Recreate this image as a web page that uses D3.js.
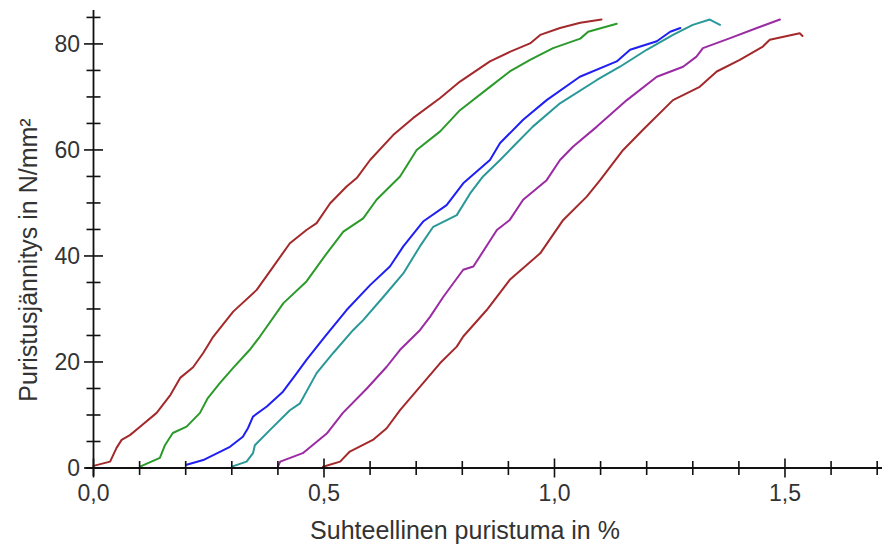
<!DOCTYPE html>
<html><head><meta charset="utf-8">
<script src="https://cdn.jsdelivr.net/npm/d3@7"></script>
<style>
html,body{margin:0;padding:0;background:#fff;}
svg{display:block;}
text{font-family:"Liberation Sans",Arial,sans-serif;fill:#333;}
</style></head>
<body><svg id="c" width="882" height="546"></svg>
<script>
// ---- data (strain in %, stress in N/mm²) ----
const xMajorTicks = [0, 0.5, 1.0, 1.5];
const xTickLabels = ["0,0", "0,5", "1,0", "1,5"];
const xMinorTicks = [0.1,0.2,0.3,0.4,0.6,0.7,0.8,0.9,1.1,1.2,1.3,1.4,1.6,1.7];
const yMajorTicks = [0, 20, 40, 60, 80];
const yTickLabels = ["0", "20", "40", "60", "80"];
const yMinorTicks = [5,10,15,25,30,35,45,50,55,65,70,75,85];
const xTitle = "Suhteellinen puristuma in %";
const yTitle = "Puristusjännitys in N/mm²";

const s1x = [0,0.036,0.050,0.061,0.079,0.101,0.137,0.167,0.188,0.216,0.238,0.260,0.303,0.354,0.390,0.426,0.462,0.484,0.513,0.549,0.571,0.600,0.650,0.693,0.752,0.795,0.860,0.903,0.947,0.969,1.012,1.056,1.102];
const s1y = [0.4,1.2,3.8,5.3,6.2,7.8,10.4,13.8,17,19,21.7,24.8,29.5,33.6,38,42.4,44.9,46.2,49.9,53.1,54.7,58.1,62.8,66,69.8,72.9,76.7,78.5,80.1,81.7,83,84,84.6];
const s2x = [0.101,0.144,0.155,0.172,0.202,0.231,0.248,0.274,0.303,0.339,0.361,0.412,0.462,0.506,0.542,0.585,0.614,0.665,0.701,0.752,0.795,0.860,0.903,0.947,0.997,1.056,1.073,1.135];
const s2y = [0.25,1.9,4.3,6.6,7.8,10.4,13.2,16,18.9,22.3,24.8,31.1,35.2,40.5,44.6,47.1,50.6,55,60,63.5,67.5,71.9,74.8,77,79.2,81,82.3,83.8];
const s3x = [0.202,0.238,0.296,0.324,0.335,0.346,0.376,0.411,0.441,0.462,0.502,0.549,0.600,0.643,0.672,0.715,0.766,0.802,0.860,0.882,0.932,0.983,1.055,1.135,1.164,1.222,1.251,1.273];
const s3y = [0.6,1.5,4,5.9,7.5,9.7,11.6,14.4,17.9,20.4,24.8,29.8,34.5,38,41.8,46.5,49.6,53.7,58.1,61.3,65.7,69.4,73.8,76.7,78.9,80.5,82.3,83];
const s4x = [0.300,0.332,0.346,0.350,0.383,0.426,0.448,0.484,0.520,0.563,0.585,0.629,0.672,0.708,0.737,0.788,0.817,0.845,0.882,0.910,0.953,1.012,1.092,1.142,1.200,1.257,1.300,1.337,1.359];
const s4y = [0.25,1.2,2.8,4.3,7.2,10.9,12.2,17.9,21.7,26,27.9,32.3,36.7,41.8,45.5,47.7,51.8,55,58.1,60.6,64.4,68.8,73.2,75.7,78.9,81.7,83.6,84.6,83.6];
const s5x = [0.400,0.405,0.454,0.506,0.541,0.593,0.636,0.665,0.708,0.730,0.759,0.802,0.824,0.875,0.903,0.932,0.983,1.012,1.040,1.092,1.157,1.222,1.279,1.308,1.322,1.381,1.439,1.489];
const s5y = [0.25,1.2,2.8,6.5,10.4,15,19.1,22.3,26,28.5,32.3,37.4,38,44.9,46.8,50.6,54.3,58.1,60.6,64.4,69.4,73.8,75.7,77.6,79.2,81.1,83,84.6];
const s6x = [0.498,0.535,0.556,0.606,0.636,0.665,0.715,0.752,0.788,0.802,0.853,0.903,0.969,1.019,1.070,1.099,1.149,1.192,1.257,1.315,1.352,1.402,1.452,1.467,1.532,1.538];
const s6y = [0.25,1.2,3.1,5.3,7.5,10.9,16,19.8,22.9,24.8,29.8,35.5,40.5,46.8,51.2,54.3,60,63.8,69.4,71.9,74.8,77,79.5,80.8,82,81.5];

const seriesX = [s1x, s2x, s3x, s4x, s5x, s6x];
const seriesY = [s1y, s2y, s3y, s4y, s5y, s6y];
const seriesColors = ["#a3292b", "#2b9a2b", "#1f1ff2", "#2a9898", "#9b2ba3", "#a3292b"];

// ---- layout ----
const svg = d3.select("#c");
const x = d3.scaleLinear().domain([0, 1.72]).range([93.5, 886.4]);
const y = d3.scaleLinear().domain([0, 86.4]).range([468, 10]);

// curves
const line = d3.line().x(d => x(d[0])).y(d => y(d[1])).curve(d3.curveLinear);
seriesX.forEach((xs, i) => {
  const pts = xs.map((v, j) => [v, seriesY[i][j]]);
  svg.append("path").datum(pts).attr("d", line)
    .attr("fill", "none").attr("stroke", seriesColors[i])
    .attr("stroke-width", 2).attr("stroke-linejoin", "round").attr("stroke-linecap", "round");
});

// axes lines
const axisColor = "#111";
svg.append("line").attr("x1", x(0) - 8).attr("x2", 882).attr("y1", y(0)).attr("y2", y(0))
  .attr("stroke", axisColor).attr("stroke-width", 1.8);
svg.append("line").attr("x1", x(0)).attr("x2", x(0)).attr("y1", y(0) + 8).attr("y2", y(86.4))
  .attr("stroke", axisColor).attr("stroke-width", 1.8);

// ticks crossing the axes
function xTicks(vals, len) {
  svg.append("g").selectAll("line").data(vals).join("line")
    .attr("x1", d => x(d)).attr("x2", d => x(d))
    .attr("y1", y(0) - len).attr("y2", y(0) + len)
    .attr("stroke", axisColor).attr("stroke-width", 1.6);
}
xTicks(xMajorTicks, 9.5);
xTicks(xMinorTicks, 7);
function yTicks(vals, len) {
  svg.append("g").selectAll("line").data(vals).join("line")
    .attr("y1", d => y(d)).attr("y2", d => y(d))
    .attr("x1", x(0) - len).attr("x2", x(0) + len)
    .attr("stroke", axisColor).attr("stroke-width", 1.6);
}
yTicks(yMajorTicks, 9.5);
yTicks(yMinorTicks, 7);

// tick labels
svg.append("g").selectAll("text").data(xMajorTicks).join("text")
  .attr("x", d => x(d)).attr("y", 501)
  .attr("text-anchor", "middle").attr("font-size", 23)
  .text((d, i) => xTickLabels[i]);
svg.append("g").selectAll("text").data(yMajorTicks).join("text")
  .attr("x", 80).attr("y", d => y(d)).attr("dy", "0.36em")
  .attr("text-anchor", "end").attr("font-size", 23)
  .text((d, i) => yTickLabels[i]);

// titles
svg.append("text").attr("x", 465).attr("y", 539).attr("text-anchor", "middle")
  .attr("font-size", 25).text(xTitle);
svg.append("text").attr("transform", "translate(37,260) rotate(-90)")
  .attr("text-anchor", "middle").attr("font-size", 25).text(yTitle);
</script></body></html>
